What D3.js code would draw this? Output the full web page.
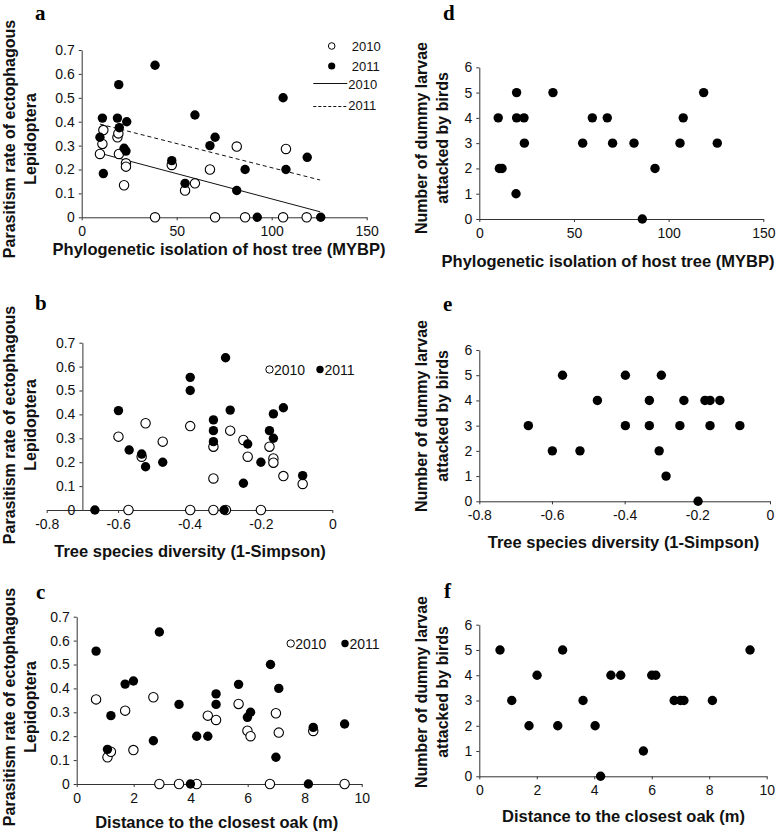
<!DOCTYPE html>
<html>
<head>
<meta charset="utf-8">
<title>Parasitism and predation</title>
<script src="https://cdn.jsdelivr.net/npm/d3@7/dist/d3.min.js"></script>
<style>
  body { margin: 0; background: #fff; font-family: "Liberation Sans", Arial, sans-serif; }
  .tick text { font-family: "Liberation Sans", Arial, sans-serif; font-size: 14px; fill: #111; }
  .axis path, .axis line { stroke: #333; stroke-width: 1; }
  .title { font-weight: bold; font-size: 16.5px; fill: #111; }
  .ytitle { font-weight: bold; font-size: 16px; fill: #111; }
  .plabel { font-family: "Liberation Serif", "Times New Roman", serif; font-weight: bold; font-size: 21px; }
  .leg { font-size: 14px; fill: #111; }
</style>
</head>
<body>
<div id="chart"></div>
<script>
// ---- data ----
// a: parasitism vs phylogenetic isolation
var isoA2010 = [9.6, 10.9, 11.4, 18.8, 19.3, 19.6, 23.3, 23.3, 22.3, 38.6, 47.4, 54.4, 59.6, 67.5, 70.2, 81.6, 86, 107.5, 106, 118.4];
var parA2010 = [0.265, 0.307, 0.365, 0.335, 0.351, 0.265, 0.226, 0.212, 0.134, 0, 0.219, 0.112, 0.142, 0.2, 0, 0.296, 0, 0.286, 0, 0];
var isoA2011 = [9.6, 10.9, 11.4, 19.5, 18.8, 19.8, 23.7, 22.3, 23.3, 38.6, 47.4, 54.4, 59.6, 70.2, 67.5, 86, 81.6, 92.4, 106, 107.5, 118.7, 125.8];
var parA2011 = [0.335, 0.415, 0.183, 0.555, 0.415, 0.375, 0.4, 0.289, 0.277, 0.636, 0.237, 0.142, 0.428, 0.335, 0.3, 0.2, 0.112, 0, 0.5, 0.2, 0.251, 0];
var regX = [9.6, 125.5];
var reg2010 = [0.268, 0.023];
var reg2011 = [0.390, 0.156];

// d: predation vs phylogenetic isolation
var isoD = [10, 10.6, 12, 19.7, 19.7, 19.4, 23.6, 23.8, 38.9, 54.6, 59.7, 67.6, 70.4, 81.7, 86.1, 92.8, 106, 107.7, 118.5, 125.7];
var larvD = [4, 2, 2, 5, 4, 1, 4, 3, 5, 3, 4, 4, 3, 3, 0, 2, 3, 4, 5, 3];

// b: parasitism vs tree diversity
var divB2010 = [-0.599, -0.523, -0.534, -0.475, -0.398, -0.333, -0.333, -0.286, -0.249, -0.237, -0.176, -0.165, -0.165, -0.137, -0.083, -0.571, -0.398, -0.333, -0.298, -0.2];
var parB2010 = [0.307, 0.363, 0.223, 0.286, 0.351, 0.265, 0.132, 0.332, 0.293, 0.223, 0.265, 0.216, 0.198, 0.142, 0.109, 0, 0, 0, 0, 0];
var divB2011 = [-0.599, -0.569, -0.534, -0.523, -0.475, -0.398, -0.398, -0.333, -0.333, -0.333, -0.299, -0.286, -0.249, -0.237, -0.2, -0.176, -0.165, -0.165, -0.137, -0.083, -0.665, -0.303];
var parB2011 = [0.416, 0.251, 0.234, 0.181, 0.2, 0.555, 0.5, 0.377, 0.332, 0.286, 0.637, 0.418, 0.112, 0.276, 0.2, 0.332, 0.402, 0.3, 0.428, 0.144, 0, 0];

// e: predation vs tree diversity
var divE = [-0.665, -0.599, -0.571, -0.523, -0.475, -0.398, -0.398, -0.332, -0.332, -0.299, -0.305, -0.286, -0.248, -0.237, -0.198, -0.179, -0.165, -0.165, -0.138, -0.083];
var larvE = [3, 2, 5, 2, 4, 5, 3, 4, 3, 5, 2, 1, 3, 4, 0, 4, 4, 3, 4, 3];

// c: parasitism vs distance to closest oak
var distC2010 = [0.68, 1.08, 1.2, 1.7, 1.99, 2.69, 2.9, 3.59, 4.21, 4.6, 4.89, 5.68, 5.99, 6.1, 6.78, 6.99, 7.09, 8.3, 9.4];
var parC2010 = [0.354, 0.112, 0.135, 0.307, 0.142, 0.363, 0, 0, 0, 0.286, 0.268, 0.335, 0.223, 0.2, 0, 0.296, 0.215, 0.222, 0];
var distC2011 = [0.68, 1.2, 1.08, 1.7, 1.99, 2.69, 2.9, 3.59, 3.99, 4.21, 4.6, 4.89, 4.89, 5.68, 5.99, 6.1, 6.8, 6.99, 7.09, 8.13, 8.3, 9.4];
var parC2011 = [0.556, 0.286, 0.145, 0.418, 0.431, 0.181, 0.636, 0.333, 0, 0.2, 0.2, 0.377, 0.333, 0.417, 0.279, 0.3, 0.5, 0.112, 0.4, 0, 0.237, 0.251];

// f: predation vs distance to closest oak
var distF = [0.72, 1.13, 1.73, 2.01, 2.73, 2.9, 3.61, 4.03, 4.22, 4.58, 4.92, 5.71, 6.0, 6.14, 6.78, 7.0, 7.12, 8.11, 9.42];
var larvF = [5, 3, 2, 4, 2, 5, 3, 2, 0, 4, 4, 1, 4, 4, 3, 3, 3, 3, 5];

// ticks
var ticksIso = [0, 50, 100, 150];
var ticksDiv = [-0.8, -0.6, -0.4, -0.2, 0];
var ticksDist = [0, 2, 4, 6, 8, 10];
var ticksPar = [0, 0.1, 0.2, 0.3, 0.4, 0.5, 0.6, 0.7];
var ticksLarv = [0, 1, 2, 3, 4, 5, 6];

var titleIso = "Phylogenetic isolation of host tree (MYBP)";
var titleDiv = "Tree species diversity (1-Simpson)";
var titleDist = "Distance to the closest oak (m)";
var titlePar = ["Parasitism rate of ectophagous", "Lepidoptera"];
var titleLarv = ["Number of dummy larvae", "attacked by birds"];

function zip(xs, ys) { return xs.map(function(d, i) { return [d, ys[i]]; }); }
function fmtPar(d) { return d === 0 ? "0" : d.toFixed(1); }
function fmtDiv(d) { return d === 0 ? "0" : d.toFixed(1).replace("\u2212", "-"); }

var W = 777, H = 836;
var svg = d3.select("#chart").append("svg").attr("width", W).attr("height", H);

var panels = [
  { label: "a", lx: 35, ly: 19.5, xr: [81.7, 366.7], yr: [217.3, 50], xd: [0, 150], yd: [0, 0.7], xt: ticksIso, yt: ticksPar,
    xf: String, yf: fmtPar, title: titleIso, tx: 219, ty: 254.5, ytitle: titlePar, ytx: 15, yty: 139,
    open: zip(isoA2010, parA2010), filled: zip(isoA2011, parA2011), reg: true, legend: "a" },
  { label: "d", lx: 443, ly: 20, xr: [479.3, 763.3], yr: [219, 67.3], xd: [0, 150], yd: [0, 6], xt: ticksIso, yt: ticksLarv,
    xf: String, yf: String, title: titleIso, tx: 608, ty: 266.5, ytitle: titleLarv, ytx: 427, yty: 138,
    filled: zip(isoD, larvD) },
  { label: "b", lx: 35, ly: 310, xr: [46.7, 332.3], yr: [510, 342.7], xd: [-0.8, 0], yd: [0, 0.7], xt: ticksDiv, yt: ticksPar,
    xf: fmtDiv, yf: fmtPar, yCross: -0.7, title: titleDiv, tx: 190, ty: 556.5, ytitle: titlePar, ytx: 15, yty: 425,
    open: zip(divB2010, parB2010), filled: zip(divB2011, parB2011), legend: "inline", legX: 269.5, legY: 369.5, legGap: 50.5 },
  { label: "e", lx: 443, ly: 310.5, xr: [479.3, 770], yr: [501.3, 350], xd: [-0.8, 0], yd: [0, 6], xt: ticksDiv, yt: ticksLarv,
    xf: fmtDiv, yf: String, title: titleDiv, tx: 623.5, ty: 548.3, ytitle: titleLarv, ytx: 427, yty: 416,
    filled: zip(divE, larvE) },
  { label: "c", lx: 36, ly: 599, xr: [76.7, 361.7], yr: [784, 616.7], xd: [0, 10], yd: [0, 0.7], xt: ticksDist, yt: ticksPar,
    xf: String, yf: fmtPar, title: titleDist, tx: 216.7, ty: 828, ytitle: titlePar, ytx: 15, yty: 707,
    open: zip(distC2010, parC2010), filled: zip(distC2011, parC2011), legend: "inline", legX: 290.7, legY: 643.5, legGap: 54.3 },
  { label: "f", lx: 444, ly: 598, xr: [479.3, 766.7], yr: [776.3, 624.7], xd: [0, 10], yd: [0, 6], xt: ticksDist, yt: ticksLarv,
    xf: String, yf: String, title: titleDist, tx: 623.5, ty: 821.7, ytitle: titleLarv, ytx: 427, yty: 692,
    filled: zip(distF, larvF) }
];

var R = 4.7;

panels.forEach(function(p) {
  var g = svg.append("g");
  var x = d3.scaleLinear().domain(p.xd).range(p.xr);
  var y = d3.scaleLinear().domain(p.yd).range(p.yr);
  var yAxisX = p.yCross !== undefined ? x(p.yCross) : p.xr[0];

  // x axis
  g.append("g").attr("class", "axis")
    .attr("transform", "translate(0," + y(0) + ")")
    .call(d3.axisBottom(x).tickValues(p.xt).tickFormat(p.xf).tickSize(3).tickSizeOuter(0).tickPadding(6));

  // y axis
  g.append("g").attr("class", "axis")
    .attr("transform", "translate(" + yAxisX + ",0)")
    .call(d3.axisLeft(y).tickValues(p.yt).tickFormat(p.yf).tickSize(3).tickSizeOuter(0).tickPadding(4));

  // panel letter
  g.append("text").attr("class", "plabel").attr("x", p.lx).attr("y", p.ly).text(p.label);

  // x title
  g.append("text").attr("class", "title").attr("text-anchor", "middle")
    .attr("x", p.tx).attr("y", p.ty).text(p.title);

  // y title (two lines, rotated)
  var yt = g.append("g").attr("transform", "translate(" + p.ytx + "," + p.yty + ") rotate(-90)");
  p.ytitle.forEach(function(t, i) {
    yt.append("text").attr("class", "ytitle").attr("text-anchor", "middle")
      .attr("x", 0).attr("y", i * 21).text(t);
  });

  // regression lines
  if (p.reg) {
    var line = d3.line().x(function(d) { return x(d[0]); }).y(function(d) { return y(d[1]); });
    g.append("path").datum(zip(regX, reg2010)).attr("d", line)
      .attr("fill", "none").attr("stroke", "#111").attr("stroke-width", 1);
    g.append("path").datum(zip(regX, reg2011)).attr("d", line)
      .attr("fill", "none").attr("stroke", "#111").attr("stroke-width", 1).attr("stroke-dasharray", "4,3");
  }

  // points
  if (p.open) {
    g.selectAll("circle.o").data(p.open).enter().append("circle")
      .attr("class", "o")
      .attr("cx", function(d) { return x(d[0]); })
      .attr("cy", function(d) { return y(d[1]); })
      .attr("r", R).attr("fill", "#fff").attr("stroke", "#000").attr("stroke-width", 1.1);
  }
  g.selectAll("circle.f").data(p.filled).enter().append("circle")
    .attr("class", "f")
    .attr("cx", function(d) { return x(d[0]); })
    .attr("cy", function(d) { return y(d[1]); })
    .attr("r", R).attr("fill", "#000");

  // legends
  if (p.legend === "a") {
    var lg = g.append("g").attr("transform", "translate(331.7,46)");
    lg.append("circle").attr("cx", 0).attr("cy", 0).attr("r", 3.3).attr("fill", "#fff").attr("stroke", "#000");
    lg.append("text").attr("class", "leg").attr("x", 20).attr("y", 4.5).style("font-size", "13px").text("2010");
    lg.append("circle").attr("cx", 0).attr("cy", 20).attr("r", 3.6).attr("fill", "#000");
    lg.append("text").attr("class", "leg").attr("x", 20).attr("y", 24.5).style("font-size", "13px").text("2011");
    lg.append("line").attr("x1", -18.4).attr("x2", 15.6).attr("y1", 37.5).attr("y2", 37.5).attr("stroke", "#111");
    lg.append("text").attr("class", "leg").attr("x", 16.6).attr("y", 43).style("font-size", "13px").text("2010");
    lg.append("line").attr("x1", -18.4).attr("x2", 15.6).attr("y1", 60.5).attr("y2", 60.5).attr("stroke", "#111").attr("stroke-dasharray", "3,2");
    lg.append("text").attr("class", "leg").attr("x", 16.6).attr("y", 64).style("font-size", "13px").text("2011");
  } else if (p.legend === "inline") {
    var li = g.append("g").attr("transform", "translate(" + p.legX + "," + p.legY + ")");
    li.append("circle").attr("cx", 0).attr("cy", 0).attr("r", 3.7).attr("fill", "#fff").attr("stroke", "#000");
    li.append("text").attr("class", "leg").attr("x", 4.5).attr("y", 5).text("2010");
    li.append("circle").attr("cx", p.legGap).attr("cy", 0).attr("r", 3.7).attr("fill", "#000");
    li.append("text").attr("class", "leg").attr("x", p.legGap + 4.5).attr("y", 5).text("2011");
  }
});
</script>
</body>
</html>
